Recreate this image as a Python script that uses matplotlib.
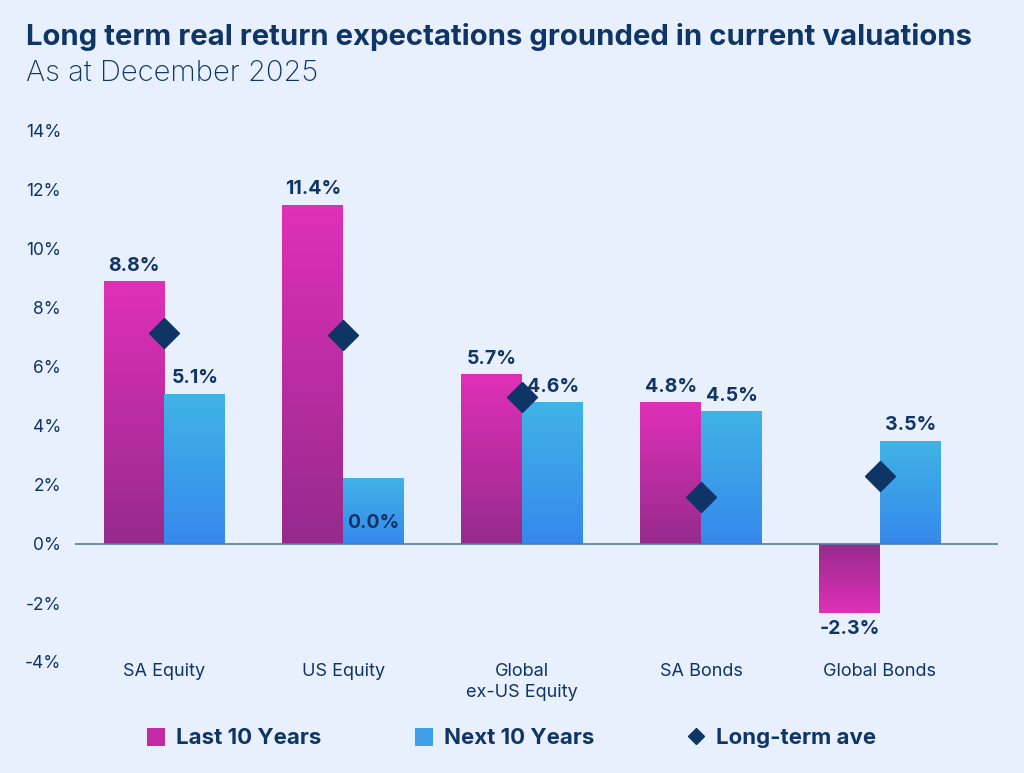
import matplotlib.pyplot as plt
import matplotlib.colors as mcolors
from matplotlib.lines import Line2D
from matplotlib.patches import Patch
import numpy as np

# data
categories = ["SA Equity", "US Equity", "Global\nex-US Equity", "SA Bonds", "Global Bonds"]
last_10 = [8.9, 11.5, 5.75, 4.8, -2.35]
next_10 = [5.1, 2.25, 4.8, 4.5, 3.5]
long_term_ave = [7.15, 7.1, 5.0, 1.6, 2.3]
last_labels = ["8.8%", "11.4%", "5.7%", "4.8%", "-2.3%"]
next_labels = ["5.1%", "0.0%", "4.6%", "4.5%", "3.5%"]
yticks = [-4, -2, 0, 2, 4, 6, 8, 10, 12, 14]

BG = "#e8f0fe"
NAVY = "#0f3466"
PINK_TOP, PINK_BOT = "#e030b8", "#962a8c"
BLUE_TOP, BLUE_BOT = "#40b4e6", "#3688ec"

plt.rcParams['font.family'] = ['Inter', 'DejaVu Sans']

fig = plt.figure(figsize=(10.24, 7.73), dpi=100, facecolor=BG)
ax = fig.add_axes([75 / 1024, 1 - 662 / 773, 923 / 1024, 531 / 773])
ax.set_facecolor(BG)

x = np.arange(len(categories))
w = 0.34


def gradient_bars(xs, vals, c_tip, c_base):
    bars = ax.bar(xs, vals, w, color="none", edgecolor="none", zorder=2)
    cmap = mcolors.LinearSegmentedColormap.from_list("g", [c_base, c_tip])
    grad = np.linspace(0, 1, 256).reshape(-1, 1)
    for b, v in zip(bars, vals):
        x0 = b.get_x()
        # bright at the tip, dark at the zero line
        ext = [x0, x0 + w, 0, v]
        im = ax.imshow(grad, extent=ext, origin="lower", cmap=cmap,
                       aspect="auto", zorder=2, interpolation="bilinear")
        im.set_clip_path(b)
    return bars


gradient_bars(x - w / 2, last_10, PINK_TOP, PINK_BOT)
gradient_bars(x + w / 2, next_10, BLUE_TOP, BLUE_BOT)

ax.plot(x, long_term_ave, linestyle="none", marker="D", markersize=15,
        color=NAVY, zorder=4)

# value labels
lab_kw = dict(ha="center", fontsize=14, fontweight="bold", color=NAVY, zorder=5)
for i in range(len(x)):
    v = last_10[i]
    if v >= 0:
        ax.text(x[i] - w / 2, v + 0.22, last_labels[i], va="bottom", **lab_kw)
    else:
        ax.text(x[i] - w / 2, v - 0.22, last_labels[i], va="top", **lab_kw)
    v = next_10[i]
    if next_labels[i] == "0.0%":
        ax.text(x[i] + w / 2, 0.4, next_labels[i], va="bottom", **lab_kw)
    else:
        ax.text(x[i] + w / 2, v + 0.22, next_labels[i], va="bottom", **lab_kw)

ax.axhline(0, color="#5878a0", linewidth=1.2, zorder=3)

ax.set_xlim(-0.5, 4.66)
ax.set_ylim(-4, 14)
ax.set_yticks(yticks)
ax.set_yticklabels([f"{t}%" for t in yticks], fontsize=12.5, color=NAVY)
ax.set_xticks(x)
ax.set_xticklabels(categories, fontsize=13, color=NAVY, linespacing=1.3)
ax.tick_params(axis="both", length=0)
ax.tick_params(axis="y", pad=10)
ax.tick_params(axis="x", pad=1)
for s in ax.spines.values():
    s.set_visible(False)

fig.text(26 / 1024, 1 - 37 / 773, "Long term real return expectations grounded in current valuations",
         fontsize=21.1, fontweight="bold", color=NAVY, va="center", ha="left")
fig.text(26 / 1024, 1 - 73 / 773, "As at December 2025",
         fontsize=21, fontweight="light", color=NAVY, va="center", ha="left")

handles = [
    Patch(facecolor="#c22aa8", edgecolor="none", label="Last 10 Years"),
    Patch(facecolor="#3ea0e8", edgecolor="none", label="Next 10 Years"),
    Line2D([], [], linestyle="none", marker="D", markersize=8, color=NAVY, label="Long-term ave"),
]
leg = fig.legend(handles=handles, loc="center", bbox_to_anchor=(0.5, 1 - 738 / 773), ncol=3,
                 frameon=False, fontsize=16, columnspacing=4.2, handlelength=0.8,
                 handleheight=0.9, handletextpad=0.5)
for t in leg.get_texts():
    t.set_color(NAVY)
    t.set_fontweight("bold")

plt.savefig("out.png", dpi=100, facecolor=BG)
